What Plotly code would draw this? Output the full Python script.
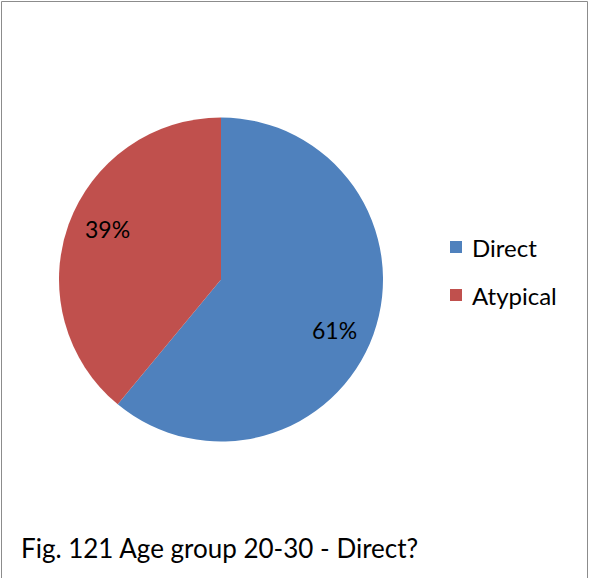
import math
import plotly.graph_objects as go

categories = ["Direct", "Atypical"]
values = [61, 39]
colors = ["#4F81BD", "#C0504D"]
caption = "Fig. 121 Age group 20-30 - Direct?"

W, H = 589, 578
FONT = "Lato"

fig = go.Figure()
dom_x = [59 / W, 383 / W]
dom_y = [1 - 442 / H, 1 - 117 / H]
fig.add_trace(go.Pie(
    labels=categories, values=values, sort=False, direction="clockwise",
    rotation=0, marker=dict(colors=colors, line=dict(width=0)),
    textinfo="none", hoverinfo="label+percent", showlegend=False,
    domain=dict(x=dom_x, y=dom_y),
))

# data labels placed near slice mid-angle
cx = (dom_x[0] + dom_x[1]) / 2 * W
cy = (1 - (dom_y[0] + dom_y[1]) / 2) * H
r = 162 * 0.765
total = sum(values)
cum = 0
for v in values:
    mid = (cum + v / 2) / total * 2 * math.pi + math.radians(4)
    cum += v
    px = cx + r * math.sin(mid)
    py = cy - r * math.cos(mid)
    fig.add_annotation(x=px / W, y=1 - py / H, xref="paper", yref="paper",
                       xanchor="center", yanchor="middle",
                       text=f"{round(v / total * 100)}%", showarrow=False,
                       font=dict(family=FONT, size=23, color="black"))

# legend
for i, (c, col) in enumerate(zip(categories, colors)):
    yc = 247 + i * 48
    fig.add_shape(type="rect", xref="paper", yref="paper",
                  x0=450 / W, x1=462 / W, y0=1 - (yc + 6) / H, y1=1 - (yc - 6) / H,
                  fillcolor=col, line=dict(width=0))
    fig.add_annotation(x=470 / W, y=1 - yc / H, xref="paper", yref="paper",
                       xanchor="left", yanchor="middle", text=c, showarrow=False,
                       font=dict(family=FONT, size=24, color="black"))

# caption
fig.add_annotation(x=19 / W, y=1 - 548 / H, xref="paper", yref="paper",
                   xanchor="left", yanchor="middle", text=caption, showarrow=False,
                   font=dict(family=FONT, size=26, color="black"))

# border
fig.add_shape(type="rect", xref="paper", yref="paper",
              x0=1.5 / W, x1=587.5 / W, y0=-0.05, y1=1 - 1.5 / H,
              line=dict(color="#8c8c8c", width=1), fillcolor="rgba(0,0,0,0)")

fig.update_layout(width=W, height=H, margin=dict(l=0, r=0, t=0, b=0),
                  paper_bgcolor="white", plot_bgcolor="white",
                  font=dict(family=FONT))
fig.write_html("out.html", config={"displayModeBar": False},
               post_script="document.body.style.margin='0px';document.body.style.overflow='hidden';")
